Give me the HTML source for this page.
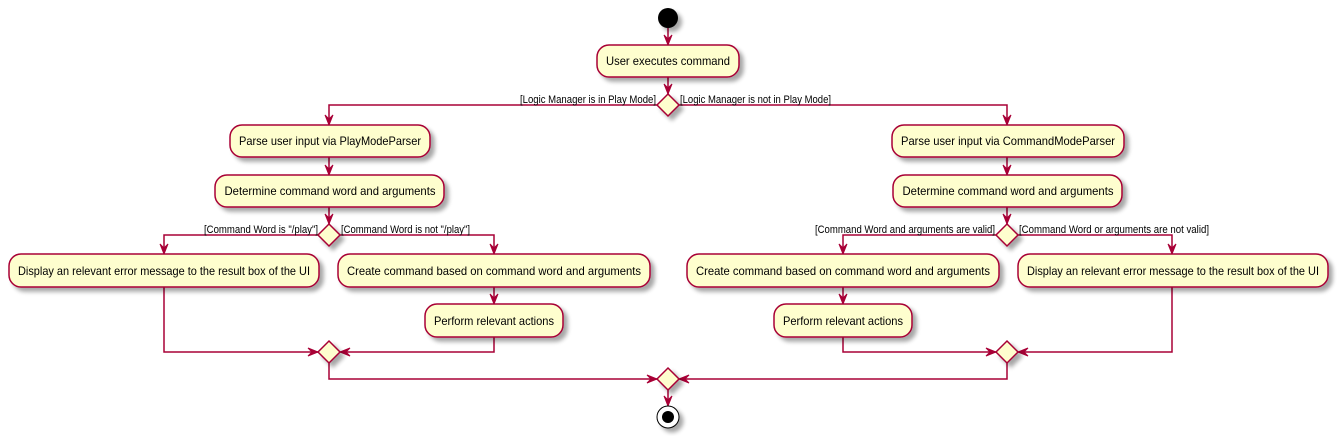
<!DOCTYPE html>
<html><head><meta charset="utf-8"><style>html,body{margin:0;padding:0;background:#fff}svg{display:block}</style></head><body>
<svg width="1337" height="436" viewBox="0 0 1337 436" xmlns="http://www.w3.org/2000/svg" font-family="Liberation Sans, sans-serif">
<defs>
<filter id="sh" x="-10%" y="-20%" width="130%" height="160%"><feGaussianBlur in="SourceAlpha" stdDeviation="2"/><feOffset dx="4" dy="4"/><feComponentTransfer><feFuncA type="linear" slope="0.35"/></feComponentTransfer><feMerge><feMergeNode/><feMergeNode in="SourceGraphic"/></feMerge></filter>
</defs>
<g stroke="#A80036" stroke-width="1.5" fill="none">
<line x1="668" y1="28" x2="668" y2="45"/>
<line x1="668" y1="77" x2="668" y2="94"/>
<polyline points="657,105 329,105 329,125"/>
<polyline points="679,105 1007,105 1007,125"/>
<line x1="329" y1="157" x2="329" y2="175"/>
<line x1="1007" y1="157" x2="1007" y2="175"/>
<line x1="329" y1="207" x2="329" y2="224"/>
<line x1="1007" y1="207" x2="1007" y2="224"/>
<polyline points="318,235 164,235 164,254"/>
<polyline points="340,235 494,235 494,254"/>
<line x1="494" y1="287" x2="494" y2="304"/>
<polyline points="164,287 164,352 318,352"/>
<polyline points="494,337 494,352 340,352"/>
<polyline points="996,235 843,235 843,254"/>
<polyline points="1018,235 1172,235 1172,254"/>
<line x1="843" y1="287" x2="843" y2="304"/>
<polyline points="843,337 843,352 996,352"/>
<polyline points="1172,287 1172,352 1018,352"/>
<polyline points="329,363 329,379 657,379"/>
<polyline points="1007,363 1007,379 679,379"/>
<line x1="668" y1="390" x2="668" y2="406"/>
</g>
<g fill="#A80036" stroke="#A80036" stroke-width="1">
<polygon points="664,35 668,45 672,35 668,39"/>
<polygon points="664,84 668,94 672,84 668,88"/>
<polygon points="325,115 329,125 333,115 329,119"/>
<polygon points="1003,115 1007,125 1011,115 1007,119"/>
<polygon points="325,165 329,175 333,165 329,169"/>
<polygon points="1003,165 1007,175 1011,165 1007,169"/>
<polygon points="325,214 329,224 333,214 329,218"/>
<polygon points="1003,214 1007,224 1011,214 1007,218"/>
<polygon points="160,244 164,254 168,244 164,248"/>
<polygon points="490,244 494,254 498,244 494,248"/>
<polygon points="490,294 494,304 498,294 494,298"/>
<polygon points="839,244 843,254 847,244 843,248"/>
<polygon points="1168,244 1172,254 1176,244 1172,248"/>
<polygon points="839,294 843,304 847,294 843,298"/>
<polygon points="308,348 318,352 308,356 312,352"/>
<polygon points="350,348 340,352 350,356 346,352"/>
<polygon points="986,348 996,352 986,356 990,352"/>
<polygon points="1028,348 1018,352 1028,356 1024,352"/>
<polygon points="647,375 657,379 647,383 651,379"/>
<polygon points="689,375 679,379 689,383 685,379"/>
<polygon points="664,396 668,406 672,396 668,400"/>
</g>
<g filter="url(#sh)" fill="#FEFECE" stroke="#A80036" stroke-width="1.5">
<circle cx="668" cy="18" r="10" fill="#000" stroke="none"/>
<rect x="597" y="45" width="142" height="32" rx="12"/>
<polygon points="668,94 679,105 668,116 657,105"/>
<rect x="230" y="125" width="200" height="32" rx="12"/>
<rect x="215" y="175" width="229" height="32" rx="12"/>
<polygon points="329,224 340,235 329,246 318,235"/>
<rect x="9" y="254" width="310" height="33" rx="12"/>
<rect x="338" y="254" width="312" height="33" rx="12"/>
<rect x="425" y="304" width="138" height="33" rx="12"/>
<polygon points="329,341 340,352 329,363 318,352"/>
<rect x="892" y="125" width="232" height="32" rx="12"/>
<rect x="893" y="175" width="229" height="32" rx="12"/>
<polygon points="1007,224 1018,235 1007,246 996,235"/>
<rect x="687" y="254" width="312" height="33" rx="12"/>
<rect x="1018" y="254" width="310" height="33" rx="12"/>
<rect x="774" y="304" width="138" height="33" rx="12"/>
<polygon points="1007,341 1018,352 1007,363 996,352"/>
<polygon points="668,368 679,379 668,390 657,379"/>
<circle cx="668" cy="417" r="11" fill="#fff" stroke="#000" stroke-width="1"/>
</g>
<circle cx="668" cy="417" r="6" fill="#000"/>
<g font-size="12" fill="#000" text-anchor="middle">
<text x="668" y="65" textLength="124" lengthAdjust="spacingAndGlyphs">User executes command</text>
<text x="330" y="145" textLength="182" lengthAdjust="spacingAndGlyphs">Parse user input via PlayModeParser</text>
<text x="330" y="195" textLength="211" lengthAdjust="spacingAndGlyphs">Determine command word and arguments</text>
<text x="164" y="275" textLength="292" lengthAdjust="spacingAndGlyphs">Display an relevant error message to the result box of the UI</text>
<text x="494" y="275" textLength="294" lengthAdjust="spacingAndGlyphs">Create command based on command word and arguments</text>
<text x="494" y="325" textLength="120" lengthAdjust="spacingAndGlyphs">Perform relevant actions</text>
<text x="1008" y="145" textLength="214" lengthAdjust="spacingAndGlyphs">Parse user input via CommandModeParser</text>
<text x="1008" y="195" textLength="211" lengthAdjust="spacingAndGlyphs">Determine command word and arguments</text>
<text x="843" y="275" textLength="294" lengthAdjust="spacingAndGlyphs">Create command based on command word and arguments</text>
<text x="1173" y="275" textLength="292" lengthAdjust="spacingAndGlyphs">Display an relevant error message to the result box of the UI</text>
<text x="843" y="325" textLength="120" lengthAdjust="spacingAndGlyphs">Perform relevant actions</text>
</g>
<g font-size="11" fill="#000">
<text x="656" y="103" text-anchor="end" textLength="136" lengthAdjust="spacingAndGlyphs">[Logic Manager is in Play Mode]</text>
<text x="680" y="103" textLength="151" lengthAdjust="spacingAndGlyphs">[Logic Manager is not in Play Mode]</text>
<text x="318" y="233" text-anchor="end" textLength="114" lengthAdjust="spacingAndGlyphs">[Command Word is "/play"]</text>
<text x="341" y="233" textLength="129" lengthAdjust="spacingAndGlyphs">[Command Word is not "/play"]</text>
<text x="995" y="233" text-anchor="end" textLength="180" lengthAdjust="spacingAndGlyphs">[Command Word and arguments are valid]</text>
<text x="1019" y="233" textLength="190" lengthAdjust="spacingAndGlyphs">[Command Word or arguments are not valid]</text>
</g>
</svg>
</body></html>
